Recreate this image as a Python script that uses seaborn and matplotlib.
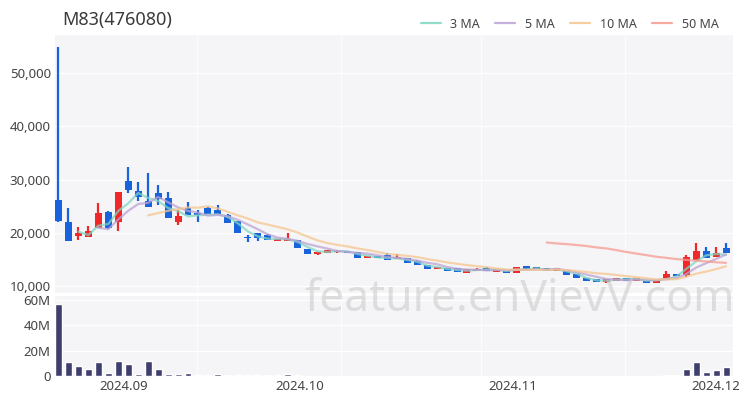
import numpy as np
import pandas as pd
import matplotlib
matplotlib.use("Agg")
import matplotlib.pyplot as plt
from matplotlib.lines import Line2D
import seaborn as sns

# ---------------- data ----------------
title = "M83(476080)"
opens = [26150, 22020, 19390, 19200, 20890, 23900, 22020, 29720, 27840, 25960,
         27470, 26530, 22020, 24650, 23710, 24650, 24270, 23330, 22210, 19200,
         19950, 19580, 18450, 18450, 18640, 16950, 16010, 16200, 16390, 16570,
         16390, 15260, 15630, 15820, 15070, 15260, 14700, 13940, 13190, 13380,
         13380, 12440, 12820, 13380, 12630, 12820, 12440, 13760, 13570, 13380,
         12820, 12820, 12250, 11500, 11310, 10750, 10940, 11500, 10940, 10940,
         10560, 11130, 12250, 12070, 14880, 16570, 15450, 17140]
highs = [54900, 24650, 21080, 21270, 25590, 24100, 27650, 32350, 29530, 31220,
         28970, 27650, 24270, 25770, 24270, 24800, 25210, 23500, 22300, 19580,
         20000, 19700, 18900, 19950, 18700, 16950, 16400, 16800, 16760, 16600,
         16400, 15630, 15700, 16200, 16010, 15300, 14800, 14000, 13570, 13400,
         13400, 13190, 13300, 13570, 13190, 12900, 13570, 13800, 13600, 13400,
         13380, 12900, 12300, 11550, 11350, 11310, 11500, 11550, 11500, 11000,
         11130, 12820, 12300, 15820, 18070, 17320, 17320, 18070]
lows = [22000, 18450, 18640, 19200, 20890, 20700, 20330, 27470, 25960, 24840,
        25210, 22770, 21460, 23330, 22020, 23520, 23520, 21830, 19950, 18260,
        18450, 18640, 18400, 18450, 17140, 16010, 15900, 16200, 16200, 16200,
        15260, 15200, 15260, 14880, 15070, 14320, 13940, 13190, 13100, 12820,
        12630, 12400, 12820, 12820, 12630, 12440, 12440, 13190, 13190, 12820,
        12800, 12070, 11500, 10940, 10750, 10560, 10940, 10940, 10900, 10560,
        10560, 11130, 11880, 11690, 14880, 15260, 15450, 16200]
closes = [22200, 18450, 19950, 20330, 23710, 20890, 27650, 28030, 26710, 24840,
          26340, 22770, 23150, 23330, 23330, 23520, 23520, 21830, 19950, 19010,
          19010, 18640, 18830, 18830, 17140, 16010, 16390, 16760, 16570, 16200,
          15260, 15630, 15260, 14880, 15450, 14320, 13940, 13190, 13570, 12820,
          12630, 13190, 13190, 12820, 13190, 12440, 13570, 13190, 13190, 12820,
          13380, 12070, 11500, 10940, 10750, 11310, 11500, 10940, 11500, 10560,
          11130, 12250, 11880, 15450, 16570, 15260, 16200, 16200]
volumes_m = [57.0, 10.8, 8.1, 5.4, 11.3, 2.7, 11.8, 9.1, 1.6, 11.8,
             5.4, 1.6, 1.6, 2.2, 1.1, 1.1, 1.9, 0.5, 0.5, 0.5,
             0.5, 0.4, 0.4, 1.3, 0.4, 0.3, 0.3, 0.3, 0.2, 0.2,
             0.3, 0.2, 0.2, 0.3, 0.2, 0.2, 0.2, 0.2, 0.2, 0.2,
             0.2, 0.2, 0.2, 0.2, 0.2, 0.2, 0.3, 0.2, 0.2, 0.2,
             0.2, 0.2, 0.2, 0.2, 0.2, 0.2, 0.2, 0.2, 0.2, 0.2,
             0.2, 0.4, 0.5, 5.4, 10.8, 3.2, 5.1, 7.0]
month_labels = ["2024.09", "2024.10", "2024.11", "2024.12"]
ma_windows = [3, 5, 10, 50]
ma_labels = ["3 MA", "5 MA", "10 MA", "50 MA"]
price_ticks = [10000, 20000, 30000, 40000, 50000]
volume_ticks_m = [0, 20, 40, 60]

# ---------------- layout / style ----------------
month_tick_pos = [6.5, 24.2, 45.6, 66.0]
minor_grid_pos = [13.9, 28.4, 42.4, 56.9]
ma_colors = ["#7fd6c3", "#bba2d4", "#f5c690", "#f59a90"]
up_color = "#f0282a"
down_color = "#1862dc"
vol_color = "#3f3f6e"
bg = "#f5f5f7"
txt = "#444444"

sns.set_theme(style="white")
plt.rcParams["font.family"] = ["Noto Sans", "DejaVu Sans"]

W, H = 750, 400
fig = plt.figure(figsize=(7.5, 4.0), dpi=100)
left, right = 55, 733
axp = fig.add_axes([left / W, 1 - 293 / H, (right - left) / W, (293 - 35) / H])
axv = fig.add_axes([left / W, 1 - 376 / H, (right - left) / W, (376 - 296) / H])

n = len(closes)
idx = np.arange(n)
df = pd.DataFrame({"i": idx, "open": opens, "high": highs, "low": lows,
                   "close": closes, "vol": np.array(volumes_m) * 1e6})

for ax in (axp, axv):
    ax.set_facecolor(bg)
    for s in ax.spines.values():
        s.set_visible(False)
    ax.tick_params(length=0, labelsize=9.5, colors=txt, pad=3)
    ax.set_xlim(-0.35, 67.7)
    ax.set_xticks(minor_grid_pos, minor=True)
    ax.grid(True, which="minor", axis="x", color="white", lw=0.8, alpha=0.8)
    ax.grid(True, which="major", axis="y", color="white", lw=1.0)
    ax.set_axisbelow(True)

# candles
up = df["close"] >= df["open"]
colors = np.where(up, up_color, down_color)
axp.vlines(df["i"], df["low"], df["high"], colors=colors, lw=1.6, zorder=3)
body_lo = np.minimum(df["open"], df["close"])
body_h = np.maximum(np.abs(df["close"] - df["open"]), 250)
axp.bar(df["i"], body_h, bottom=body_lo, width=0.7, color=colors, zorder=3, lw=0)

# moving averages
for w, lab, c in zip(ma_windows, ma_labels, ma_colors):
    m = df["close"].rolling(w).mean()
    d = pd.DataFrame({"i": idx, "ma": m}).dropna()
    sns.lineplot(data=d, x="i", y="ma", ax=axp, color=c, lw=1.6, alpha=0.75,
                 zorder=4, legend=False)

axp.set_ylim(8685, 57140)
axp.set_yticks(price_ticks)
axp.set_yticklabels([f"{v:,}" for v in price_ticks])
axp.set_xticks(month_tick_pos)
axp.set_xticklabels([])
axp.grid(False, which="major", axis="x")
axp.set_xlabel("")
axp.set_ylabel("")
axp.set_xlim(-0.35, 67.7)

# volume
sns.barplot(data=df, x="i", y="vol", native_scale=True, width=0.7,
            color=vol_color, ax=axv, zorder=3, saturation=1)
axv.set_ylim(0, 63.1e6)
axv.set_yticks([v * 1e6 for v in volume_ticks_m])
axv.set_yticklabels(["0" if v == 0 else f"{v}M" for v in volume_ticks_m])
axv.set_xticks(month_tick_pos)
axv.set_xticklabels(month_labels)
axv.grid(False, which="major", axis="x")
axv.set_xlabel("")
axv.set_ylabel("")
axv.set_xlim(-0.35, 67.7)

# title
fig.text(62 / W, 1 - 20 / H, title, fontsize=13, color="#3a3a3a",
         ha="left", va="center", fontweight="light")

# legend
handles = [Line2D([0], [0], color=c, lw=1.6, alpha=0.85) for c in ma_colors]
fig.legend(handles, ma_labels, loc="center right",
           bbox_to_anchor=(730 / W, 1 - 24 / H), ncol=4, frameon=False,
           fontsize=9, handlelength=1.6, handletextpad=0.8, columnspacing=1.2,
           labelcolor=txt)

# watermark
fig.text(735 / W, 1 - 300 / H, "feature.enVievV.com", fontsize=32,
         color="#c4c4c4", alpha=0.5, ha="right", va="center", zorder=10)

fig.savefig("out.png", dpi=100, facecolor="white")
